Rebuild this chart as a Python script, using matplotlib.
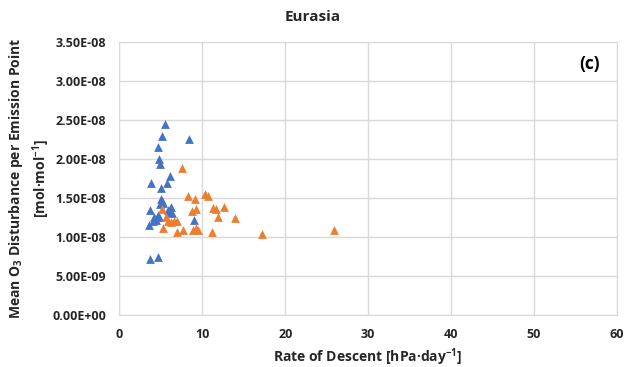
import matplotlib
matplotlib.use("Agg")
import matplotlib.pyplot as plt
from matplotlib.ticker import MultipleLocator, FuncFormatter

# descent rate [hPa/day] vs mean O3 disturbance [1e-9 mol/mol]
blue_x = [5.5, 5.1, 8.4, 4.6, 4.8, 4.9, 6.1, 3.8, 5.8, 5.0, 5.0, 5.1, 5.3, 4.9,
          3.7, 6.2, 5.9, 6.4, 6.0, 4.6, 4.2, 4.4, 4.0, 4.8, 3.6, 9.0, 3.7, 4.7]
blue_y = [24.5, 22.9, 22.5, 21.5, 20.0, 19.3, 17.8, 16.9, 16.9, 16.3, 14.9, 14.6, 14.4, 14.2,
          13.4, 13.9, 13.5, 13.1, 13.2, 12.8, 12.5, 12.2, 12.0, 12.6, 11.5, 12.2, 7.2, 7.4]

orange_x = [7.6, 8.3, 10.3, 10.7, 9.1, 12.6, 5.2, 9.2, 8.7, 11.3, 11.6, 5.6, 11.9, 13.9,
            5.9, 6.9, 6.6, 6.2, 5.3, 7.7, 6.9, 8.9, 9.3, 9.5, 11.2, 17.2, 25.9]
orange_y = [18.9, 15.3, 15.5, 15.3, 14.9, 13.9, 13.6, 13.6, 13.3, 13.7, 13.6, 12.5, 12.6, 12.4,
            12.1, 12.1, 12.0, 11.9, 11.2, 10.9, 10.7, 10.9, 11.2, 10.9, 10.6, 10.35, 10.95]

FONT = "Open Sans"
plt.rcParams["font.family"] = [FONT, "DejaVu Sans"]
plt.rcParams["font.weight"] = "bold"
plt.rcParams["mathtext.fontset"] = "custom"
plt.rcParams["mathtext.rm"] = FONT + ":bold"
plt.rcParams["mathtext.default"] = "rm"

TXT = "#262626"
GRID = "#d9d9d9"

fig = plt.figure(figsize=(6.25, 3.67), dpi=100)
ax = fig.add_axes([0.191, 0.1417, 0.796, 0.744])

ax.scatter(blue_x, [v * 1e-9 for v in blue_y], marker="^", s=40, color="#4472c4",
           linewidths=0, zorder=3)
ax.scatter(orange_x, [v * 1e-9 for v in orange_y], marker="^", s=40, color="#ed7d31",
           linewidths=0, zorder=3)

ax.set_xlim(0, 60)
ax.set_ylim(0, 3.5e-8)
ax.xaxis.set_major_locator(MultipleLocator(10))
ax.yaxis.set_major_locator(MultipleLocator(5e-9))
ax.yaxis.set_major_formatter(FuncFormatter(
    lambda v, p: "0.00E+00" if abs(v) < 1e-15 else f"{v:.2E}"))
ax.grid(True, color=GRID, lw=1)
ax.set_axisbelow(True)
for s in ax.spines.values():
    s.set_color(GRID)
ax.tick_params(length=0, labelsize=9, colors=TXT, pad=9.5)
for lab in ax.get_xticklabels() + ax.get_yticklabels():
    lab.set_fontweight("bold")

ax.set_xlabel("Rate of Descent [hPa·day$^{-1}$]", fontsize=10, color=TXT,
              fontweight="bold", labelpad=4)
ax.set_ylabel("Mean O$_3$ Disturbance per Emission Point\n[mol·mol$^{-1}$]",
              fontsize=10, color=TXT, fontweight="bold", labelpad=0.5, linespacing=1.3)
fig.text(0.5, 0.955, "Eurasia", ha="center", va="center", fontsize=11,
         color=TXT, fontweight="bold")
ax.text(0.946, 0.921, "(c)", transform=ax.transAxes, ha="center", va="center",
        fontsize=12.5, color="black", fontweight="bold")

fig.savefig("out.png", dpi=100)
